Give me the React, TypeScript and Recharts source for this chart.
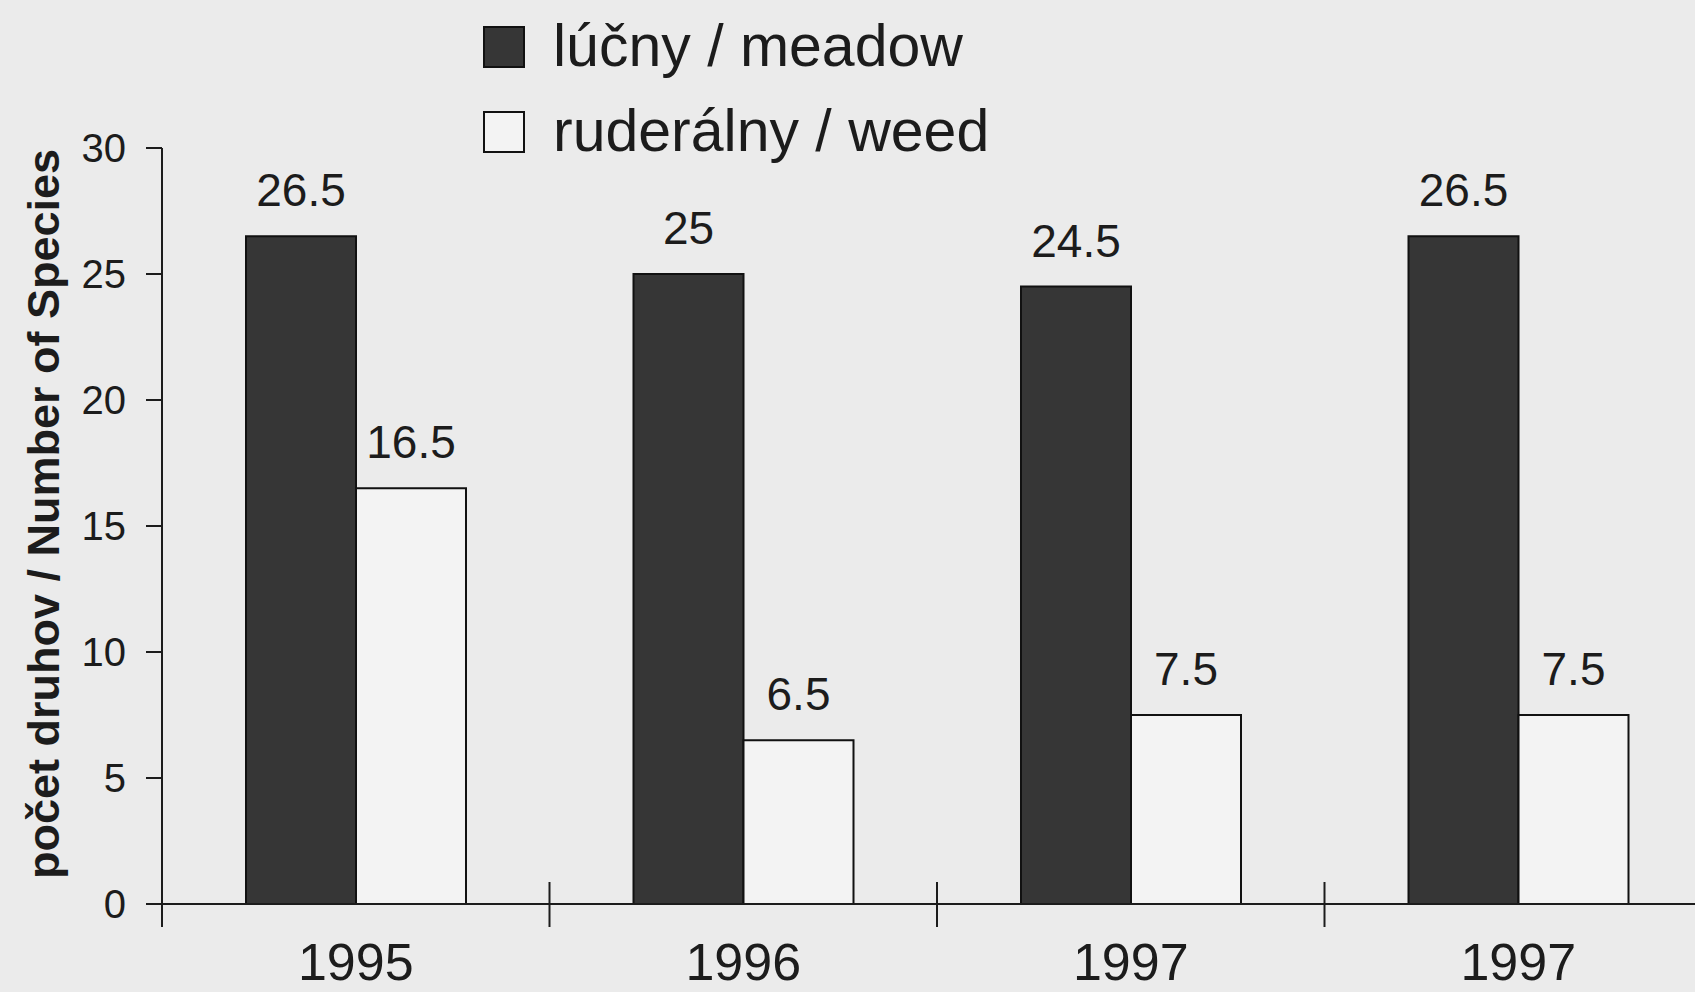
import { BarChart, Bar, XAxis, YAxis, LabelList, Label } from 'recharts';

const years = ['1995', '1996', '1997', '1997'];
const meadow = [26.5, 25, 24.5, 26.5];
const weed = [16.5, 6.5, 7.5, 7.5];
const yTicks = [0, 5, 10, 15, 20, 25, 30];

const data = years.map((year, i) => ({ year, meadow: meadow[i], weed: weed[i] }));

const FONT = '"Liberation Sans", Arial, Helvetica, sans-serif';
const INK = '#1c1c1c';
const PAPER = '#ebebeb';
const DARK = '#363636';
const LIGHT = '#f3f3f3';

function YearTick(props: any) {
  const { x, y, payload } = props;
  const edge = x - (payload.offset ?? 0);
  return (
    <g>
      <line x1={edge} x2={edge} y1={y - 22} y2={y + 23} stroke={INK} strokeWidth={2} />
      <text x={x} y={y + 76} textAnchor="middle" fontSize={52} fontFamily={FONT} fill={INK}>
        {payload.value}
      </text>
    </g>
  );
}

function AxisTitle(props: any) {
  const vb = props.viewBox;
  const cx = 43;
  const cy = vb.y + vb.height / 2 - 12;
  return (
    <text
      x={cx}
      y={cy}
      transform={`rotate(-90, ${cx}, ${cy})`}
      textAnchor="middle"
      dominantBaseline="central"
      fontSize={45}
      fontWeight="bold"
      fontFamily={FONT}
      fill={INK}
    >
      počet druhov / Number of Species
    </text>
  );
}

const legendItems = [
  { label: 'lúčny / meadow', fill: DARK, top: 26 },
  { label: 'ruderálny / weed', fill: LIGHT, top: 111 },
];

export default function App() {
  return (
    <div style={{ position: 'relative', width: 1695, height: 992, overflow: 'hidden', background: PAPER }}>
      <style>{`body{margin:0;background:${PAPER};}`}</style>
      <BarChart
        width={1712}
        height={992}
        data={data}
        margin={{ top: 148, right: 0, bottom: 0, left: 0 }}
        barGap={0}
      >
        <XAxis
          dataKey="year"
          height={88}
          axisLine={{ stroke: INK, strokeWidth: 2 }}
          tickLine={false}
          tickSize={0}
          tickMargin={0}
          tick={<YearTick />}
          interval={0}
        />
        <YAxis
          width={162}
          domain={[0, 30]}
          ticks={yTicks}
          allowDataOverflow
          axisLine={{ stroke: INK, strokeWidth: 2 }}
          tickLine={{ stroke: INK, strokeWidth: 2 }}
          tickSize={16}
          tickMargin={20}
          tick={{ fill: INK, fontSize: 40, fontFamily: FONT }}
        >
          <Label content={<AxisTitle />} />
        </YAxis>
        <Bar dataKey="meadow" barSize={110} fill={DARK} stroke="#111" strokeWidth={2} isAnimationActive={false}>
          <LabelList dataKey="meadow" position="top" offset={30} fill={INK} fontSize={46} fontFamily={FONT} />
        </Bar>
        <Bar dataKey="weed" barSize={110} fill={LIGHT} stroke="#111" strokeWidth={2} isAnimationActive={false}>
          <LabelList dataKey="weed" position="top" offset={30} fill={INK} fontSize={46} fontFamily={FONT} />
        </Bar>
      </BarChart>
      {legendItems.map((item) => (
        <div
          key={item.label}
          style={{ position: 'absolute', left: 483, top: item.top, display: 'flex', alignItems: 'center', height: 41 }}
        >
          <div style={{ width: 38, height: 38, background: item.fill, border: '2px solid #111' }} />
          <span style={{ marginLeft: 28, fontSize: 59, fontFamily: FONT, color: INK, lineHeight: '41px', whiteSpace: 'nowrap' }}>
            {item.label}
          </span>
        </div>
      ))}
    </div>
  );
}
